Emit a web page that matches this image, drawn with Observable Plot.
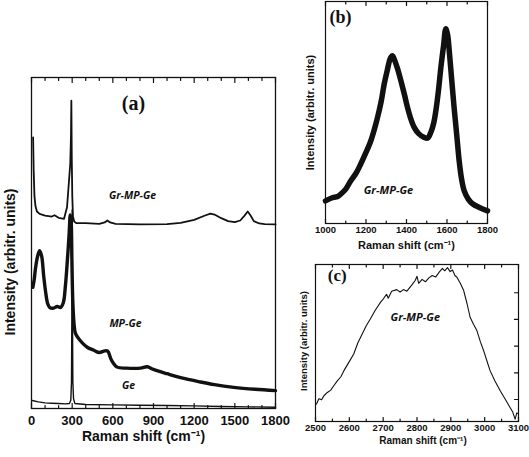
<!DOCTYPE html>
<html><head><meta charset="utf-8">
<script src="https://cdn.jsdelivr.net/npm/d3@7"></script>
<script src="https://cdn.jsdelivr.net/npm/@observablehq/plot@0.6"></script>
<style>
body{margin:0;background:#fff}
#c{position:relative;width:529px;height:457px;background:#fff}
#c svg{position:absolute;left:0;top:0;background:transparent !important}
</style></head><body><div id="c"></div><script>
// ---------- Panel (a): Raman spectra 0–1800 cm-1 ----------
const geX   = [5, 50, 100, 150, 200, 250, 280, 290, 295, 298, 300, 302, 305, 310, 320, 400, 600, 800, 1000, 1200, 1400, 1600, 1800];
const geY   = [2.4, 2.0, 1.7, 1.6, 1.5, 1.4, 1.5, 2.5, 8, 30, 60, 30, 8, 3, 1.5, 1.2, 1.1, 1.0, 0.9, 0.8, 0.6, 0.5, 0.4];

const mpX   = [10, 20, 30, 45, 60, 75, 90, 105, 120, 135, 160, 190, 215, 235, 250, 265, 278, 286, 292, 298, 305, 315, 325, 350, 411, 460, 500, 540, 562, 590, 632, 700, 804, 853, 900, 1000, 1100, 1246, 1350, 1492, 1650, 1800];
const mpY   = [36.6, 39, 42.5, 46, 47.7, 46, 40, 35, 31.6, 30.5, 30.3, 30.8, 30.5, 32, 37, 45, 53, 58.5, 57, 45, 32, 25, 22.6, 21, 18.5, 17.6, 16.9, 17.4, 17.3, 14.6, 12.5, 12.2, 12.2, 12.6, 11.8, 10.5, 9.3, 8.0, 7.2, 6.4, 5.8, 5.4];

const grX   = [12, 16, 22, 30, 40, 60, 100, 150, 170, 200, 240, 262, 278, 286, 291, 294, 297, 301, 306, 315, 330, 400, 500, 540, 560, 580, 620, 800, 1000, 1100, 1200, 1280, 1320, 1350, 1400, 1450, 1500, 1540, 1570, 1595, 1615, 1640, 1680, 1720, 1800];
const grY   = [81.9, 72, 64, 61, 59.5, 58.8, 58.3, 58.0, 58.4, 57.6, 57.3, 60.8, 69.5, 74, 82, 93, 76, 64, 58, 56.5, 56.0, 56.0, 55.8, 56.2, 56.8, 56.2, 55.8, 55.6, 55.7, 56.1, 57.0, 58.3, 58.9, 58.6, 57.5, 56.6, 56.3, 56.8, 58.2, 59.5, 58.4, 56.6, 55.9, 55.7, 55.6];

const aTickLabels = [0, 300, 600, 900, 1200, 1500, 1800];
const aMinorTicks = [100, 200, 400, 500, 700, 800, 1000, 1100, 1300, 1400, 1600, 1700];
const aNames  = ["Gr-MP-Ge", "MP-Ge", "Ge"];
const aNameX  = [745, 693, 716];
const aNameY  = [64.4, 25.7, 6.9];

// ---------- Panel (b): D and G bands ----------
const bX = [1000, 1030, 1060, 1076, 1100, 1125, 1150, 1174, 1200, 1224, 1240, 1257, 1275, 1290, 1305, 1315, 1323, 1332, 1339, 1355, 1372, 1390, 1405, 1420, 1438, 1460, 1487, 1505, 1520, 1535, 1545, 1558, 1570, 1583, 1594, 1603, 1611, 1623, 1635, 1648, 1660, 1672, 1685, 1705, 1726, 1760, 1800];
const bY = [10.2, 11.5, 12.2, 13.3, 15.5, 19.3, 22.5, 26.8, 32, 37.3, 42, 47.8, 55, 62.9, 69, 73, 74.9, 75.5, 74.1, 70, 64.4, 58, 52.3, 47.5, 43.3, 40.5, 38.8, 38.5, 41.0, 45.5, 50.8, 60, 70.5, 80, 87.7, 85, 77.9, 65, 52.3, 40, 28.3, 20, 14.7, 11, 8.9, 7.2, 5.7];
const bTickLabels = [1000, 1200, 1400, 1600, 1800];
const bMinorTicks = [1100, 1300, 1500, 1700];

// ---------- Panel (c): 2D band region ----------
const cX = [2503, 2510, 2518, 2525, 2535, 2545, 2554, 2565, 2575, 2584, 2598, 2613, 2625, 2638, 2650, 2662, 2677, 2692, 2700, 2710, 2715, 2725, 2740, 2750, 2760, 2770, 2785, 2795, 2800, 2805, 2815, 2825, 2835, 2845, 2855, 2865, 2875, 2882, 2890, 2898, 2905, 2912, 2918, 2928, 2938, 2948, 2957, 2967, 2977, 2987, 2997, 3006, 3016, 3030, 3046, 3060, 3075, 3083, 3090, 3095, 3100];
const cY = [11.1, 14.5, 13.8, 16.4, 18.5, 20, 22.8, 26, 28.5, 32.4, 37.5, 43.0, 50, 55.8, 61, 65.3, 71, 75.9, 78, 81, 78.5, 83, 84, 82.5, 84, 83, 87, 90, 92.5, 88, 90.5, 89, 91.5, 93, 92, 95, 97.5, 96, 98, 95.5, 96.5, 93, 91.9, 88, 83.4, 75, 66.4, 62, 57.9, 51, 45.1, 39, 32.4, 26, 19.6, 14.5, 8.9, 6, 1.5, 5.5, 4.7];
const cTickLabels = [2500, 2600, 2700, 2800, 2900, 3000, 3100];
const cMinorTicks = [2550, 2650, 2750, 2850, 2950, 3050];
const cRightTicks = [14, 31, 48, 65, 82];

const xTitle = "Raman shift (cm\u207B\u00B9)";
const yTitle = "Intensity (arbitr. units)";

const W = 529, H = 457;
const AX = "'Liberation Sans', Arial, sans-serif";
const LBL = "'Open Sans', sans-serif";
const SERIF = "'Liberation Serif', 'Times New Roman', serif";
const baseStyle = {background: "transparent", fontFamily: AX, color: "#111", overflow: "visible"};

// straight tick shape for the vector mark (points up before rotation)
const tickShape = {draw(context, l) { context.moveTo(0, 0); context.lineTo(0, -l); }};

function ticksMarks(major, minor, majLen, minLen, labelSize, labelPad, yRight) {
  const t = (data, anchor, len) => Plot.vector(data, {
    x: d => d, frameAnchor: anchor, rotate: anchor === "top" ? 180 : 0,
    length: len, anchor: "start", shape: tickShape, stroke: "#111", strokeWidth: 1.2
  });
  const m = [
    Plot.axisX(major, {anchor: "bottom", tickSize: 0, tickPadding: labelPad, fontSize: labelSize, fontWeight: "bold", label: null, fill: "#111", tickFormat: d => String(d)}),
    t(major, "bottom", majLen), t(major, "top", majLen),
    t(minor, "bottom", minLen), t(minor, "top", minLen)
  ];
  if (yRight) m.push(Plot.vector(yRight, {y: d => d, frameAnchor: "right", rotate: -90, length: majLen, anchor: "start", shape: tickShape, stroke: "#111", strokeWidth: 1.2}));
  return m;
}

const c = document.getElementById("c");

// Panel (a)
const pa = Plot.plot({
  width: W, height: H,
  marginLeft: 31, marginRight: W - 275, marginTop: 77, marginBottom: H - 408,
  x: {domain: [0, 1800], axis: null, label: null},
  y: {domain: [0, 100], axis: null, label: null},
  style: baseStyle,
  marks: [
    Plot.line(geX.map((x, i) => ({x, y: geY[i]})), {x: "x", y: "y", stroke: "#111", strokeWidth: 1.4}),
    Plot.line(mpX.map((x, i) => ({x, y: mpY[i]})), {x: "x", y: "y", stroke: "#111", strokeWidth: 3.4, curve: "catmull-rom"}),
    Plot.line(grX.map((x, i) => ({x, y: grY[i]})), {x: "x", y: "y", stroke: "#111", strokeWidth: 1.8}),
    Plot.frame({stroke: "#111", strokeWidth: 1.3}),
    ...ticksMarks(aTickLabels, aMinorTicks, 5, 3, 13, 7),
    Plot.text(aNames, {x: (d, i) => aNameX[i], y: (d, i) => aNameY[i], text: d => d, fontFamily: LBL, fontStyle: "italic", fontWeight: "bold", fontSize: 10.5, fill: "#111"}),
    Plot.text(["(a)"], {x: [752], y: [92.1], text: d => d, fontFamily: SERIF, fontWeight: "bold", fontSize: 20, fill: "#111"}),
    Plot.text([xTitle], {frameAnchor: "bottom", dy: 32, dx: -10, text: d => d, fontSize: 14, fontWeight: "bold", fill: "#111"}),
    Plot.text([yTitle], {frameAnchor: "left", textAnchor: "middle", rotate: -90, dx: -21, dy: 19, text: d => d, fontSize: 14, fontWeight: "bold", fill: "#111"})
  ]
});
c.appendChild(pa);

// Panel (b)
const pb = Plot.plot({
  width: W, height: H,
  marginLeft: 325, marginRight: W - 487, marginTop: 1, marginBottom: H - 223,
  x: {domain: [1000, 1800], axis: null, label: null},
  y: {domain: [0, 100], axis: null, label: null},
  style: baseStyle,
  marks: [
    Plot.line(bX.map((x, i) => ({x, y: bY[i]})), {x: "x", y: "y", stroke: "#111", strokeWidth: 5.5, curve: "catmull-rom"}),
    Plot.frame({stroke: "#111", strokeWidth: 1.2}),
    ...ticksMarks(bTickLabels, bMinorTicks, 4, 2.5, 9.5, 3),
    Plot.text(["Gr-MP-Ge"], {x: [1311], y: [14.8], text: d => d, fontFamily: LBL, fontStyle: "italic", fontWeight: "bold", fontSize: 11, fill: "#111"}),
    Plot.text(["(b)"], {x: [1074], y: [92.8], text: d => d, fontFamily: SERIF, fontWeight: "bold", fontSize: 18, fill: "#111"}),
    Plot.text([xTitle], {frameAnchor: "bottom", dy: 25, text: d => d, fontSize: 11, fontWeight: "bold", fill: "#111"}),
    Plot.text([yTitle], {frameAnchor: "left", textAnchor: "middle", rotate: -90, dx: -15, text: d => d, fontSize: 11, fontWeight: "bold", fill: "#111"})
  ]
});
c.appendChild(pb);

// Panel (c)
const pc = Plot.plot({
  width: W, height: H,
  marginLeft: 315, marginRight: W - 518, marginTop: 264, marginBottom: H - 421,
  x: {domain: [2500, 3100], axis: null, label: null},
  y: {domain: [0, 100], axis: null, label: null},
  style: baseStyle,
  marks: [
    Plot.line(cX.map((x, i) => ({x, y: cY[i]})), {x: "x", y: "y", stroke: "#111", strokeWidth: 1.1}),
    Plot.frame({stroke: "#111", strokeWidth: 1.2}),
    ...ticksMarks(cTickLabels, cMinorTicks, 4, 2.5, 9.5, 3, cRightTicks),
    Plot.text(["Gr-MP-Ge"], {x: [2795], y: [66.4], text: d => d, fontFamily: LBL, fontStyle: "italic", fontWeight: "bold", fontSize: 11, fill: "#111"}),
    Plot.text(["(c)"], {x: [2564], y: [93], text: d => d, fontFamily: SERIF, fontWeight: "bold", fontSize: 17, fill: "#111"}),
    Plot.text([xTitle], {frameAnchor: "bottom", dy: 22, dx: 6, text: d => d, fontSize: 10, fontWeight: "bold", fill: "#111"}),
    Plot.text([yTitle], {frameAnchor: "left", textAnchor: "middle", rotate: -90, dx: -12, dy: -2, text: d => d, fontSize: 9.5, fontWeight: "bold", fill: "#111"})
  ]
});
c.appendChild(pc);
</script></body></html>
